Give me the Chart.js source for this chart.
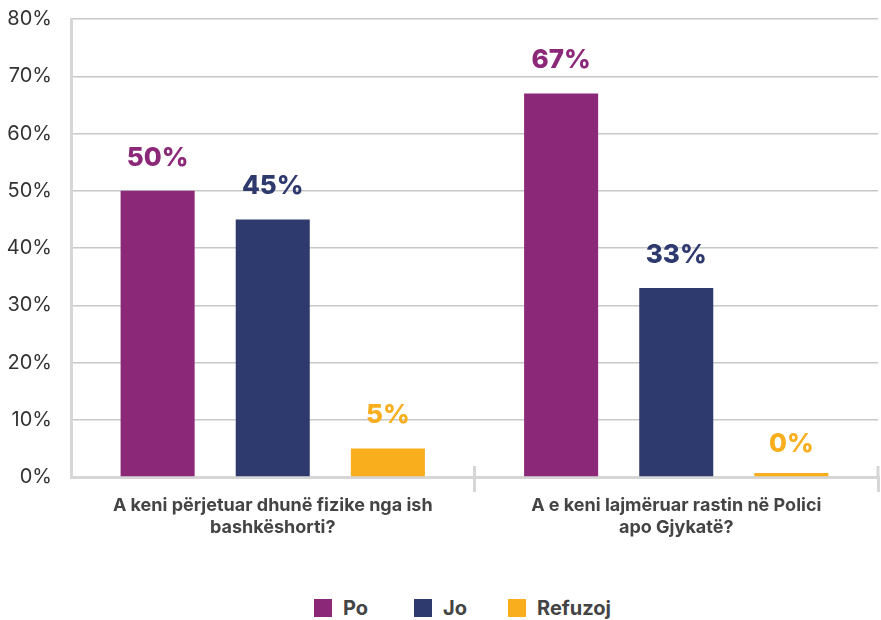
<!DOCTYPE html>
<html>
<head>
<meta charset="utf-8">
<script src="https://cdn.jsdelivr.net/npm/chart.js@4.4.1/dist/chart.umd.min.js"></script>
<style>
  body { margin: 0; background: #fff; font-family: Inter, sans-serif; }
  #wrap { position: relative; width: 881px; height: 620px; overflow: hidden; }
  #chart-box { position: absolute; left: 0; top: -12px; width: 881px; height: 553px; }
  #legend { position: absolute; left: 314px; top: 596px; display: flex; }
  .item { display: flex; align-items: center; font-weight: 700; font-size: 20px; color: #444; }
  .box { width: 18px; height: 18px; margin-right: 11px; }
</style>
</head>
<body>
<div id="wrap">
  <div id="chart-box"><canvas id="chart"></canvas></div>
  <div id="legend"></div>
</div>
<script>
// Data
const categories = [
  ['A keni përjetuar dhunë fizike nga ish', 'bashkëshorti?'],
  ['A e keni lajmëruar rastin në Polici', 'apo Gjykatë?']
];
const seriesNames = ['Po', 'Jo', 'Refuzoj'];
const poValues = [50, 67];
const joValues = [45, 33];
const refuzojValues = [5, 0];
const seriesColors = ['#8B2878', '#2E3A6E', '#F9AE1E'];
const legendGaps = [46, 41, 0];

// Value labels above bars
const valueLabels = {
  id: 'valueLabels',
  afterDatasetsDraw(chart) {
    const ctx = chart.ctx;
    ctx.save();
    ctx.font = '800 26px Inter';
    ctx.textAlign = 'center';
    ctx.textBaseline = 'middle';
    chart.data.datasets.forEach((ds, i) => {
      chart.getDatasetMeta(i).data.forEach((bar, j) => {
        ctx.fillStyle = ds.backgroundColor;
        const top = chart.scales.y.getPixelForValue(ds.data[j]);
        ctx.fillText(ds.data[j] + '%', bar.x, top - 33);
      });
    });
    ctx.restore();
  }
};

// Short tick marks crossing the x axis at category boundaries
const crossTicks = {
  id: 'crossTicks',
  afterDraw(chart) {
    const x = chart.scales.x;
    const ctx = chart.ctx;
    const y0 = chart.chartArea.bottom;
    const half = (x.getPixelForValue(1) - x.getPixelForValue(0)) / 2;
    ctx.save();
    ctx.strokeStyle = '#d6d6d6';
    ctx.lineWidth = 3;
    for (let i = 1; i <= categories.length; i++) {
      const px = x.getPixelForValue(i) - half;
      ctx.beginPath();
      ctx.moveTo(px, y0 - 11);
      ctx.lineTo(px, y0);
      ctx.stroke();
    }
    ctx.restore();
  }
};

const valueSets = [poValues, joValues, refuzojValues];

new Chart(document.getElementById('chart'), {
  type: 'bar',
  data: {
    labels: categories,
    datasets: seriesNames.map((name, i) => ({
      label: name,
      data: valueSets[i],
      backgroundColor: seriesColors[i],
      categoryPercentage: 0.856,
      barPercentage: 0.643,
      minBarLength: 4
    }))
  },
  options: {
    responsive: true,
    maintainAspectRatio: false,
    animation: false,
    layout: { padding: { top: 0, right: 3, left: 0, bottom: 0 } },
    plugins: {
      legend: { display: false },
      tooltip: { enabled: false }
    },
    scales: {
      y: {
        min: 0,
        max: 80,
        afterFit: scale => { scale.width = 71; },
        ticks: {
          stepSize: 10,
          padding: 19,
          color: '#333',
          font: { family: 'Inter', size: 20 },
          callback: v => v + '%'
        },
        grid: {
          drawTicks: false,
          color: ctx => ctx.tick && ctx.tick.value === 0 ? 'rgba(0,0,0,0)' : '#c8c8c8',
          lineWidth: 1.5,
          tickBorderDash: [2, 5]
        },
        border: { display: true, color: '#d6d6d6', width: 3 }
      },
      x: {
        offset: true,
        ticks: {
          padding: 2,
          color: '#444',
          font: { family: 'Inter', size: 18, weight: 'bold', lineHeight: 1.25 }
        },
        grid: {
          offset: true,
          drawOnChartArea: false,
          drawTicks: true,
          tickLength: 15,
          lineWidth: 3,
          color: ctx => ctx.index === 0 ? 'rgba(0,0,0,0)' : '#d6d6d6'
        },
        border: { display: true, color: '#d6d6d6', width: 3 }
      }
    }
  },
  plugins: [valueLabels, crossTicks]
});

// Legend
const legend = document.getElementById('legend');
seriesNames.forEach((name, i) => {
  legend.innerHTML += `
    <div class="item" style="margin-right:${legendGaps[i]}px">
      <div class="box" style="background:${seriesColors[i]}"></div>${name}
    </div>`;
});
</script>
</body>
</html>
